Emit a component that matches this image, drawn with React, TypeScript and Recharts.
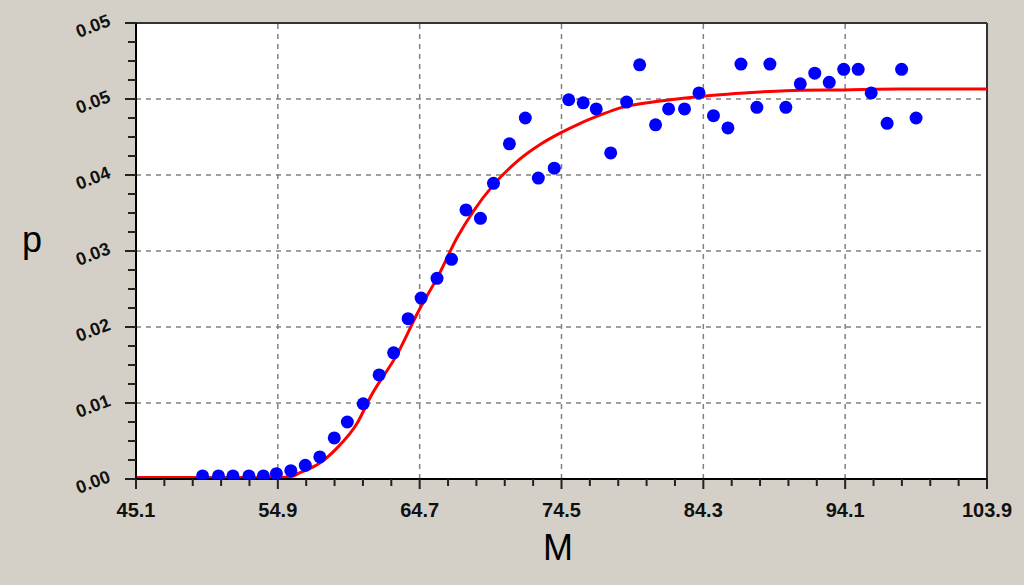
import React from 'react';
import {
  ComposedChart,
  Scatter,
  Line,
  XAxis,
  YAxis,
  CartesianGrid,
  ReferenceLine
} from 'recharts';

// Axis ticks and labels
const xMajorTicks = [45.1, 54.9, 64.7, 74.5, 84.3, 94.1, 103.9];
const xTickLabels = ['45.1', '54.9', '64.7', '74.5', '84.3', '94.1', '103.9'];
const yMajorTicks = [0, 0.01, 0.02, 0.03, 0.04, 0.05, 0.06];
const yTickLabels = ['0.00', '0.01', '0.02', '0.03', '0.04', '0.05', '0.05'];

// Observed points (blue)
const mObserved = [
  49.7, 50.8, 51.8, 52.9, 53.9, 54.8, 55.8, 56.8, 57.8, 58.8,
  59.7, 60.8, 61.9, 62.9, 63.9, 64.8, 65.9, 66.9, 67.9, 68.9,
  69.8, 70.9, 72.0, 72.9, 74.0, 75.0, 76.0, 76.9, 77.9, 79.0,
  79.9, 81.0, 81.9, 83.0, 84.0, 85.0, 86.0, 86.9, 88.0, 88.9,
  90.0, 91.0, 92.0, 93.0, 94.0, 95.0, 95.9, 97.0, 98.0, 99.0
];
const pObserved = [
  0.0004, 0.0004, 0.0004, 0.0004, 0.0004, 0.0007, 0.0011, 0.0018, 0.0029, 0.0054,
  0.0075, 0.0099, 0.0137, 0.0166, 0.0211, 0.0238, 0.0264, 0.0289, 0.0354, 0.0343,
  0.0389, 0.0441, 0.0475, 0.0396, 0.0409, 0.0499, 0.0495, 0.0487, 0.0429, 0.0496,
  0.0545, 0.0466, 0.0487, 0.0487, 0.0508, 0.0478, 0.0462, 0.0546, 0.0489, 0.0546,
  0.0489, 0.0520, 0.0534, 0.0522, 0.0539, 0.0539, 0.0508, 0.0468, 0.0539, 0.0475
];

// Fitted curve (red)
const mFit = [
  45.1, 50.0, 55.0, 55.8, 56.4, 57.8, 59.0, 60.4, 61.3, 63.2,
  64.6, 66.0, 67.3, 68.4, 69.8, 71.2, 73.1, 74.4, 75.8, 77.2,
  78.5, 80.8, 82.9, 85.0, 87.1, 90.0, 94.0, 98.0, 103.9
];
const pFit = [
  0.0002, 0.0002, 0.0002, 0.0003, 0.0008, 0.0021, 0.0041, 0.0074, 0.0108, 0.0166,
  0.0220, 0.0268, 0.0318, 0.0352, 0.0387, 0.0414, 0.0441, 0.0455, 0.0468, 0.0479,
  0.0488, 0.0496, 0.0501, 0.0505, 0.0508, 0.0511, 0.0512, 0.0513, 0.0513
];

const observedData = mObserved.map((m, i) => ({ m, p: pObserved[i] }));
const fitData = mFit.map((m, i) => ({ m, p: pFit[i] }));

// minor ticks between the major ones
const subdivide = (major: number[], parts: number) => {
  const out: number[] = [];
  for (let i = 0; i < major.length - 1; i++) {
    const step = (major[i + 1] - major[i]) / parts;
    for (let k = 0; k < parts; k++) out.push(+(major[i] + k * step).toFixed(5));
  }
  out.push(major[major.length - 1]);
  return out;
};
const xAllTicks = subdivide(xMajorTicks, 5);
const yAllTicks = subdivide(yMajorTicks, 4);

const majorIndex = (list: number[], v: number) =>
  list.findIndex((t) => Math.abs(t - v) < 1e-6);

const FONT = '"Liberation Sans", Arial, sans-serif';
const TICK_COLOR = '#222';

const XTick = (props: any) => {
  const { x, y, payload } = props;
  const idx = majorIndex(xMajorTicks, payload.value);
  const major = idx >= 0;
  return (
    <g>
      <line x1={x} x2={x} y1={y} y2={y + (major ? 10 : 7)} stroke={TICK_COLOR} strokeWidth={2} />
      {major && (
        <text x={x} y={y + 38} textAnchor="middle" fontFamily={FONT} fontWeight="bold" fontSize={20} fill="#111">
          {xTickLabels[idx]}
        </text>
      )}
    </g>
  );
};

const YTick = (props: any) => {
  const { x, y, payload } = props;
  const idx = majorIndex(yMajorTicks, payload.value);
  const major = idx >= 0;
  const cx = x - 43;
  const cy = y + 3;
  return (
    <g>
      <line x1={x - (major ? 11 : 8)} x2={x} y1={y} y2={y} stroke={TICK_COLOR} strokeWidth={2} />
      {major && (
        <text
          x={cx}
          y={cy}
          textAnchor="middle"
          dominantBaseline="central"
          transform={`rotate(-21 ${cx} ${cy})`}
          fontFamily={FONT}
          fontWeight="bold"
          fontSize={18}
          fill="#111"
        >
          {yTickLabels[idx]}
        </text>
      )}
    </g>
  );
};

const Dot = (props: any) => <circle cx={props.cx} cy={props.cy} r={6.5} fill="#0000ff" />;

const App: React.FC = () => {
  return (
    <div
      style={{
        position: 'absolute',
        left: 0,
        top: 0,
        width: 1024,
        height: 585,
        background: '#d4d0c8',
        fontFamily: FONT
      }}
    >
      <ComposedChart
        width={1024}
        height={585}
        margin={{ top: 23, right: 37, left: 0, bottom: 0 }}
      >
        <CartesianGrid fill="#ffffff" horizontal={false} vertical={false} />
        <XAxis
          type="number"
          dataKey="m"
          domain={[45.1, 103.9]}
          ticks={xAllTicks}
          interval={0}
          height={106}
          tickSize={0}
          tickMargin={0}
          tick={<XTick />}
          axisLine={{ stroke: '#000', strokeWidth: 2 }}
          allowDataOverflow
        />
        <YAxis
          type="number"
          dataKey="p"
          domain={[0, 0.06]}
          ticks={yAllTicks}
          interval={0}
          width={136}
          tickSize={0}
          tickMargin={0}
          tick={<YTick />}
          axisLine={{ stroke: '#000', strokeWidth: 2 }}
          allowDataOverflow
        />
        {xMajorTicks.slice(1, -1).map((v) => (
          <ReferenceLine key={`gx${v}`} x={v} stroke="#808080" strokeWidth={1.5} strokeDasharray="5 5" />
        ))}
        {yMajorTicks.slice(1, -1).map((v) => (
          <ReferenceLine key={`gy${v}`} y={v} stroke="#808080" strokeWidth={1.5} strokeDasharray="5 5" />
        ))}
        <ReferenceLine y={0.06} stroke="#333" strokeWidth={2} />
        <ReferenceLine x={103.9} stroke="#333" strokeWidth={2} />
        <Scatter data={observedData} dataKey="p" shape={<Dot />} isAnimationActive={false} />
        <Line
          data={fitData}
          dataKey="p"
          type="monotone"
          stroke="#ff0000"
          strokeWidth={3}
          dot={false}
          activeDot={false}
          isAnimationActive={false}
        />
      </ComposedChart>
      <div style={{ position: 'absolute', left: 22, top: 222, fontSize: 36, color: '#000', lineHeight: '36px' }}>
        p
      </div>
      <div style={{ position: 'absolute', left: 543, top: 530, fontSize: 36, color: '#000', lineHeight: '36px' }}>
        M
      </div>
    </div>
  );
};

export default App;
